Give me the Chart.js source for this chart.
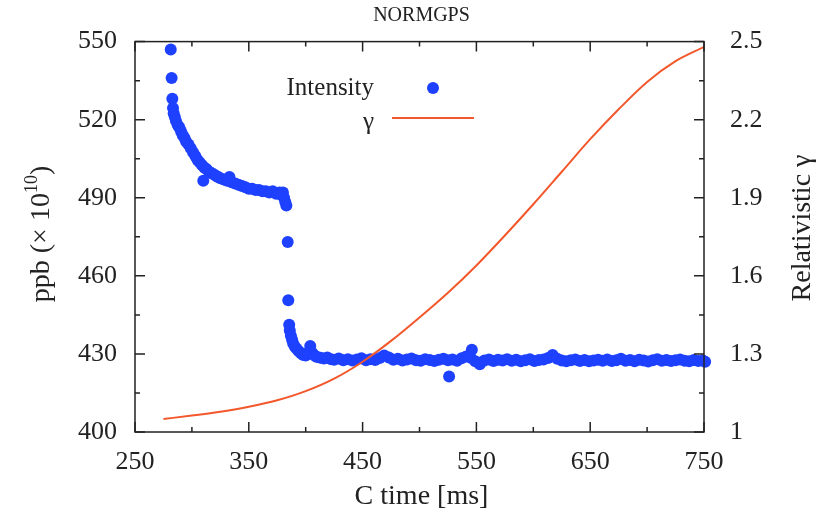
<!DOCTYPE html>
<html>
<head>
<meta charset="utf-8">
<script src="https://cdn.jsdelivr.net/npm/chart.js@4.4.1/dist/chart.umd.min.js"></script>
<style>
html, body { margin: 0; padding: 0; background: #fff; }
#wrap { width: 819px; height: 525px; }
</style>
</head>
<body>
<div id="wrap"><canvas id="chart"></canvas></div>
<script>
// intensity samples (C time in ms, ppb x 1e10)
const intensityTime = [
    281.4, 282.2, 282.8, 283.4, 284, 285, 286, 287.5, 289, 290.5, 292, 293.5, 295, 297, 299,
    301, 303, 305, 307, 309, 310, 311, 313, 315, 317, 319, 321, 323, 325, 328, 331, 333, 335,
    338, 341, 344, 347, 350, 353, 356, 359, 362, 365, 368, 371, 374, 377, 379, 380, 381, 382, 383,
    384.2, 384.7, 385.5, 386, 387, 388, 389, 390.5, 392, 394, 396, 398, 400, 402, 404, 406, 408,
    410, 413, 416, 419, 422,
    425, 429, 433, 437, 441, 445, 449, 453, 457, 461, 465, 469, 473, 477, 481, 485, 489, 493,
    497, 501, 505, 509, 513, 517, 521, 525, 526, 529, 533, 537, 541, 545, 546, 549, 553, 557,
    561, 565, 569, 573, 577, 581, 585, 589, 593, 597, 601, 605, 609, 613, 617, 621, 625, 629,
    633, 637, 641, 645, 649, 653, 657, 661, 665, 669, 673, 677, 681, 685, 689, 693, 697, 701,
    705, 709, 713, 717, 721, 725, 729, 733, 737, 741, 745, 749, 751
];
const intensityValue = [
    547, 536, 528, 524.5, 522.5, 521, 519.5, 518, 517, 515.5, 514, 513, 511.5, 510.5, 509,
    507.5, 506, 504.5, 503.5, 502.5, 496.5, 501.5, 501, 500, 499.5, 499, 498.5, 498, 497.5, 497, 496.5, 498, 496,
    495.5, 495, 494.5, 494, 493.5, 493.5, 493, 493, 492.5, 492.5, 492, 492.5, 491.5, 492, 491, 492, 490, 488.5, 487,
    473, 450.6, 441.2, 439, 437, 435.5, 434, 432.8, 432, 431, 430.2, 429.6, 429.4, 430.5, 433, 430.3, 429.3,
    428.8, 428.5, 428.2, 428.6, 428,
    427.8, 428.2, 427.6, 428, 427.5, 427.9, 428.3, 427.6, 428, 427.7, 428.4, 429.4, 428.6, 427.8, 428.1, 427.5, 427.9, 428.2,
    427.6, 427.4, 428, 427.7, 427.3, 427.8, 428.1, 427.6, 421.3, 427.9, 427.4, 428.3, 429, 428.5, 431.6, 427.2, 426, 427.5,
    427.9, 427.3, 427.8, 427.5, 428, 427.4, 427.8, 427.2, 427.6, 428, 427.3, 427.7, 427.9, 428.4, 429.6, 428.1, 427.5, 427.2,
    427.6, 427.9, 427.3, 427.7, 427.2, 427.5, 427.8, 427.4, 427.9, 427.3, 427.6, 428.1, 427.4, 427.7, 427.2, 427.8, 427.5, 427.1,
    427.6, 428, 427.4, 427.7, 427.3, 427.6, 427.9, 427.4, 427.2, 427.7, 427.3, 427.5, 427
];

// relativistic gamma along the ramp
const gammaTime  = [275, 300, 325, 350, 375, 400, 425, 450, 475, 500, 525, 550, 575, 600, 625, 650, 675, 700, 725, 750];
const gammaValue = [1.05, 1.063, 1.078, 1.097, 1.122, 1.157, 1.205, 1.27, 1.35, 1.44, 1.535, 1.64, 1.755, 1.875, 2.0, 2.125, 2.24, 2.345, 2.425, 2.48];

const xTicks     = [250, 350, 450, 550, 650, 750];
const leftTicks  = [400, 430, 460, 490, 520, 550];
const rightTicks = [1, 1.3, 1.6, 1.9, 2.2, 2.5];

const BLUE = '#1e40ff';
const RED = '#f2582c';
const INK = '#222222';
const SERIF = "'Liberation Serif', 'DejaVu Serif', serif";

const pts = (xs, ys) => xs.map((x, i) => ({ x: x, y: ys[i] }));
const setTicks = list => scale => { scale.ticks = list.map(v => ({ value: v })); };

// box, inward ticks, titles and the key
const framePlugin = {
    id: 'frame',
    afterDatasetsDraw(chart) {
        const { ctx, chartArea: a, scales } = chart;
        ctx.save();
        ctx.strokeStyle = INK;
        ctx.lineWidth = 1.5;
        ctx.strokeRect(a.left, a.top, a.right - a.left, a.bottom - a.top);

        const withMinor = list => {
            const out = [];
            list.forEach((v, i) => {
                out.push([v, 10]);
                if (i < list.length - 1) out.push([(v + list[i + 1]) / 2, 5]);
            });
            return out;
        };
        ctx.beginPath();
        withMinor(xTicks).forEach(([v, len]) => {
            const px = scales.x.getPixelForValue(v);
            ctx.moveTo(px, a.bottom); ctx.lineTo(px, a.bottom - len);
            ctx.moveTo(px, a.top); ctx.lineTo(px, a.top + len);
        });
        withMinor(leftTicks).forEach(([v, len]) => {
            const py = scales.y.getPixelForValue(v);
            ctx.moveTo(a.left, py); ctx.lineTo(a.left + len, py);
        });
        withMinor(rightTicks).forEach(([v, len]) => {
            const py = scales.y1.getPixelForValue(v);
            ctx.moveTo(a.right, py); ctx.lineTo(a.right - len, py);
        });
        ctx.stroke();

        const cx = (a.left + a.right) / 2;
        ctx.fillStyle = INK;
        ctx.textAlign = 'center';
        ctx.textBaseline = 'middle';
        ctx.font = '20px ' + SERIF;
        ctx.fillText('NORMGPS', cx + 2, 16);
        ctx.font = '28px ' + SERIF;
        ctx.fillText('C time [ms]', cx + 2, 497);

        // left title with superscript
        ctx.save();
        ctx.translate(40, 234);
        ctx.rotate(-Math.PI / 2);
        const main = 'ppb (\u00d7 10', sup = '10', close = ')';
        ctx.font = '28px ' + SERIF;
        const wMain = ctx.measureText(main).width;
        const wClose = ctx.measureText(close).width;
        ctx.font = '18px ' + SERIF;
        const wSup = ctx.measureText(sup).width;
        let x0 = -(wMain + wSup + wClose) / 2;
        ctx.textAlign = 'left';
        ctx.textBaseline = 'alphabetic';
        ctx.font = '28px ' + SERIF;
        ctx.fillText(main, x0, 9);
        ctx.font = '18px ' + SERIF;
        ctx.fillText(sup, x0 + wMain, -3);
        ctx.font = '28px ' + SERIF;
        ctx.fillText(close, x0 + wMain + wSup, 9);
        ctx.restore();

        ctx.save();
        ctx.translate(803, 228);
        ctx.rotate(-Math.PI / 2);
        ctx.font = '28px ' + SERIF;
        ctx.textAlign = 'center';
        ctx.textBaseline = 'middle';
        ctx.fillText('Relativistic \u03b3', 0, 0);
        ctx.restore();

        // key
        ctx.font = '25px ' + SERIF;
        ctx.textAlign = 'right';
        ctx.textBaseline = 'middle';
        ctx.fillText('Intensity', 374, 88);
        ctx.fillText('\u03b3', 374, 122);
        ctx.fillStyle = BLUE;
        ctx.beginPath();
        ctx.arc(433, 88, 6, 0, Math.PI * 2);
        ctx.fill();
        ctx.strokeStyle = RED;
        ctx.lineWidth = 2;
        ctx.beginPath();
        ctx.moveTo(392, 118); ctx.lineTo(474, 118);
        ctx.stroke();
        ctx.restore();
    }
};

new Chart(document.getElementById('chart'), {
    type: 'scatter',
    data: {
        datasets: [
            {
                label: '\u03b3',
                type: 'line',
                data: pts(gammaTime, gammaValue),
                yAxisID: 'y1',
                borderColor: RED,
                borderWidth: 2,
                pointRadius: 0,
                cubicInterpolationMode: 'monotone',
                order: 0
            },
            {
                label: 'Intensity',
                data: pts(intensityTime, intensityValue),
                yAxisID: 'y',
                backgroundColor: BLUE,
                borderColor: BLUE,
                borderWidth: 0,
                pointRadius: 6,
                clip: false,
                order: 1
            }
        ]
    },
    options: {
        responsive: true,
        maintainAspectRatio: false,
        animation: false,
        layout: { padding: { top: 35, left: 0, right: 0, bottom: 0 } },
        plugins: { legend: { display: false }, tooltip: { enabled: false } },
        scales: {
            x: {
                type: 'linear', position: 'bottom', min: 250, max: 750,
                afterBuildTicks: setTicks(xTicks),
                afterFit: s => { s.height = 93; },
                grid: { display: false, drawTicks: false },
                border: { display: false },
                ticks: { color: INK, padding: 15, font: { family: SERIF, size: 26 } }
            },
            y: {
                type: 'linear', position: 'left', min: 400, max: 550,
                afterBuildTicks: setTicks(leftTicks),
                afterFit: s => { s.width = 135; },
                grid: { display: false, drawTicks: false },
                border: { display: false },
                ticks: { color: INK, padding: 18, font: { family: SERIF, size: 26 } }
            },
            y1: {
                type: 'linear', position: 'right', min: 1, max: 2.5,
                afterBuildTicks: setTicks(rightTicks),
                afterFit: s => { s.width = 115; },
                grid: { display: false, drawTicks: false },
                border: { display: false },
                ticks: {
                    color: INK, padding: 26, font: { family: SERIF, size: 26 },
                    callback: v => String(Number(v.toFixed(1)))
                }
            }
        }
    },
    plugins: [framePlugin]
});
</script>
</body>
</html>
